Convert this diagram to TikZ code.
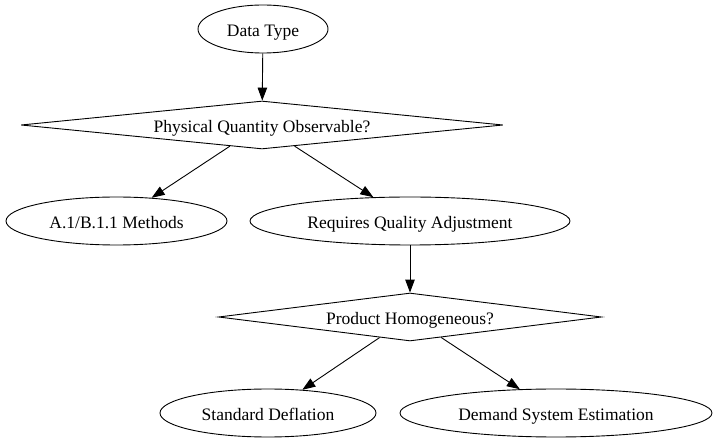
\documentclass[tikz,border=0pt]{standalone}
\usepackage{fontspec}
\setmainfont{Liberation Serif}
\usetikzlibrary{shapes.geometric,arrows.meta}
\begin{document}
\begin{tikzpicture}[x=1pt,y=-1pt,
  every node/.style={font=\fontsize{17.5}{20}\selectfont, draw=black, line width=0.9pt, inner sep=0pt, text height=15pt, text depth=0pt},
  ell/.style={ellipse, minimum height=48pt},
  dia/.style={diamond, aspect=10, minimum height=48pt},
  edge/.style={line width=0.9pt, -{Triangle[length=13pt,width=9.5pt]}}]
\useasboundingbox (0,0) rectangle (715,443);
\node[ell, minimum width=130pt] (dt) at (263,29) {Data Type};
\node[dia, minimum width=482pt] (pq) at (262,125) {Physical Quantity Observable?};
\node[ell, minimum width=221pt] (ab) at (116.5,221) {A.1/B.1.1 Methods};
\node[ell, minimum width=320pt] (rq) at (410,221) {Requires Quality Adjustment};
\node[dia, minimum width=383pt] (ph) at (410,317) {Product Homogeneous?};
\node[ell, minimum width=216pt] (sd) at (268,413) {Standard Deflation};
\node[ell, minimum width=312pt] (ds) at (556,413) {Demand System Estimation};
\draw[edge] (dt) -- (pq);
\draw[edge] (pq) -- (ab);
\draw[edge] (pq) -- (rq);
\draw[edge] (rq) -- (ph);
\draw[edge] (ph) -- (sd);
\draw[edge] (ph) -- (ds);
\end{tikzpicture}
\end{document}
